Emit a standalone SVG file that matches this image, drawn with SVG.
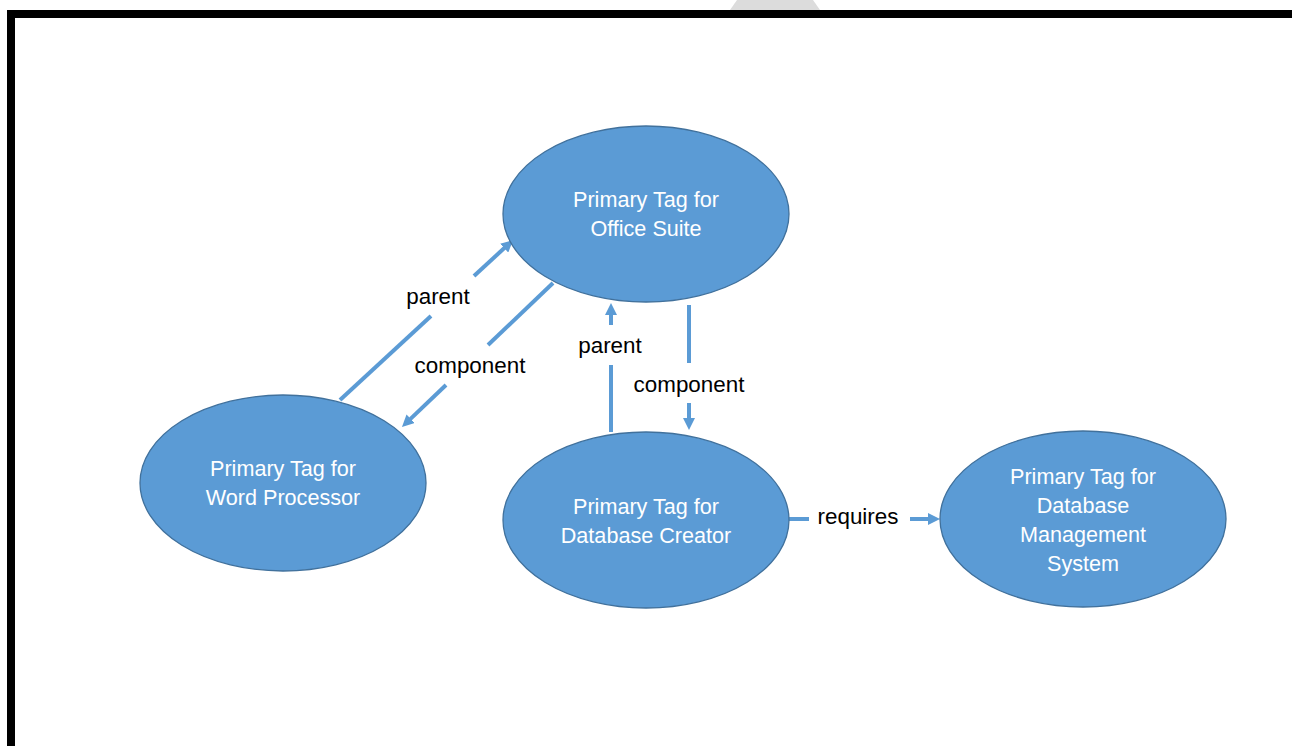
<svg xmlns="http://www.w3.org/2000/svg" width="1292" height="746" viewBox="0 0 1292 746">
<style>
.node{fill:#5B9BD5;stroke:#41719C;stroke-width:1.3}
.nt{font-family:"Liberation Sans",Arial,sans-serif;font-size:21.6px;fill:#fff;text-anchor:middle}
.conn{stroke:#5B9BD5;stroke-width:4;fill:none}
.lbl{font-family:"Liberation Sans",Arial,sans-serif;font-size:22.4px;fill:#000;text-anchor:middle}
</style>
<defs>
<marker id="arr" markerUnits="userSpaceOnUse" markerWidth="12" markerHeight="12" refX="2" refY="6" orient="auto">
<path d="M0,0 L12,6 L0,12 z" fill="#5B9BD5"/>
</marker>
</defs>
<rect width="1292" height="746" fill="#fff"/>
<polygon points="737,0 813,0 820,10 730,10" fill="#dcdcdc"/>
<rect x="7" y="10" width="1285" height="8" fill="#000"/>
<rect x="7" y="10" width="8" height="736" fill="#000"/>

<g id="connectors">
<line class="conn" x1="340" y1="400" x2="431" y2="316"/>
<line class="conn" x1="474" y1="276" x2="505.7" y2="246.8" marker-end="url(#arr)"/>
<text class="lbl" x="438" y="304">parent</text>
<line class="conn" x1="553" y1="283" x2="488" y2="345"/>
<line class="conn" x1="446" y1="385" x2="409.2" y2="420.1" marker-end="url(#arr)"/>
<text class="lbl" x="470" y="373">component</text>
<line class="conn" x1="611" y1="432" x2="611" y2="365"/>
<line class="conn" x1="611" y1="325" x2="611" y2="313" marker-end="url(#arr)"/>
<text class="lbl" x="610" y="353">parent</text>
<line class="conn" x1="689" y1="305" x2="689" y2="363"/>
<line class="conn" x1="689" y1="403" x2="689" y2="420" marker-end="url(#arr)"/>
<text class="lbl" x="689" y="392">component</text>
<line class="conn" x1="789" y1="519" x2="809" y2="519"/>
<line class="conn" x1="910" y1="519" x2="930" y2="519" marker-end="url(#arr)"/>
<text class="lbl" x="858" y="524">requires</text>
</g>

<g id="office-suite">
<ellipse class="node" cx="646" cy="214" rx="143" ry="88"/>
<text class="nt" x="646" y="207">Primary Tag for</text>
<text class="nt" x="646" y="236">Office Suite</text>
</g>
<g id="word-processor">
<ellipse class="node" cx="283" cy="483" rx="143" ry="88"/>
<text class="nt" x="283" y="476">Primary Tag for</text>
<text class="nt" x="283" y="505">Word Processor</text>
</g>
<g id="database-creator">
<ellipse class="node" cx="646" cy="520" rx="143" ry="88"/>
<text class="nt" x="646" y="514">Primary Tag for</text>
<text class="nt" x="646" y="543">Database Creator</text>
</g>
<g id="dbms">
<ellipse class="node" cx="1083" cy="519" rx="143" ry="88"/>
<text class="nt" x="1083" y="484">Primary Tag for</text>
<text class="nt" x="1083" y="513">Database</text>
<text class="nt" x="1083" y="542">Management</text>
<text class="nt" x="1083" y="571">System</text>
</g>
</svg>
